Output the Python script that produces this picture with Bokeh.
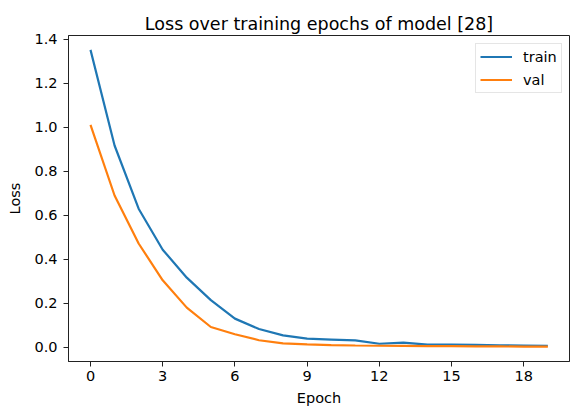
from bokeh.plotting import figure
from bokeh.models import Range1d, FixedTicker, PrintfTickFormatter
from bokeh.embed import file_html
from bokeh.resources import INLINE

# ---- data ----
epochs = list(range(20))
train_loss = [1.351, 0.917, 0.630, 0.444, 0.317, 0.215, 0.131, 0.084, 0.055, 0.040,
              0.036, 0.032, 0.017, 0.022, 0.013, 0.013, 0.012, 0.010, 0.009, 0.008]
val_loss = [1.011, 0.690, 0.472, 0.305, 0.181, 0.093, 0.060, 0.033, 0.019, 0.014,
            0.011, 0.009, 0.008, 0.007, 0.006, 0.006, 0.005, 0.005, 0.004, 0.004]
x_ticks = [0, 3, 6, 9, 12, 15, 18]
y_ticks = [0.0, 0.2, 0.4, 0.6, 0.8, 1.0, 1.2, 1.4]
title_text = "Loss over training epochs of model [28]"

FONT = "DejaVu Sans"
BLUE = "#1f77b4"
ORANGE = "#ff7f0e"

p = figure(width=570, height=410,
           x_range=Range1d(-0.914, 19.9), y_range=Range1d(-0.0636, 1.4163),
           output_backend="svg", toolbar_location=None,
           min_border_left=68, min_border_right=1,
           min_border_top=35, min_border_bottom=49,
           title=title_text)

p.line(epochs, train_loss, line_color=BLUE, line_width=2.2, legend_label="train")
p.line(epochs, val_loss, line_color=ORANGE, line_width=2.2, legend_label="val")

# title
p.title.text_font = FONT
p.title.text_font_size = "17.5px"
p.title.text_font_style = "normal"
p.title.text_color = "#000000"
p.title.align = "center"
p.title.standoff = 3

# grid / frame
p.xgrid.visible = False
p.ygrid.visible = False
p.outline_line_color = "#222222"
p.outline_line_width = 1
p.background_fill_color = "white"
p.border_fill_color = "white"

# axes
for ax in (p.xaxis[0], p.yaxis[0]):
    ax.axis_line_color = "#222222"
    ax.major_tick_line_color = "#222222"
    ax.major_tick_out = 5
    ax.major_tick_in = 0
    ax.minor_tick_line_color = None
    ax.major_label_text_font = FONT
    ax.major_label_text_font_size = "14.5px"
    ax.major_label_text_color = "#000000"
    ax.axis_label_text_font = FONT
    ax.axis_label_text_font_size = "14.5px"
    ax.axis_label_text_font_style = "normal"
    ax.axis_label_text_color = "#000000"

p.xaxis.ticker = FixedTicker(ticks=x_ticks)
p.yaxis.ticker = FixedTicker(ticks=y_ticks)
p.yaxis.formatter = PrintfTickFormatter(format="%.1f")
p.xaxis.axis_label = "Epoch"
p.yaxis.axis_label = "Loss"
p.xaxis.major_label_standoff = 4
p.xaxis.axis_label_standoff = 6
p.yaxis.major_label_standoff = 6
p.yaxis.axis_label_standoff = 8

# legend (bottom-left corner given in screen px from the frame's bottom-left)
lg = p.legend[0]
lg.location = (407, 268)
lg.margin = 0
lg.padding = 4
lg.spacing = 6
lg.glyph_width = 32
lg.glyph_height = 17
lg.label_height = 17
lg.label_standoff = 11
lg.label_text_font = FONT
lg.label_text_font_size = "14.5px"
lg.label_text_color = "#000000"
lg.border_line_color = "#cccccc"
lg.border_line_width = 1
lg.background_fill_alpha = 0.8

open("out.html", "w").write(file_html(p, INLINE))
